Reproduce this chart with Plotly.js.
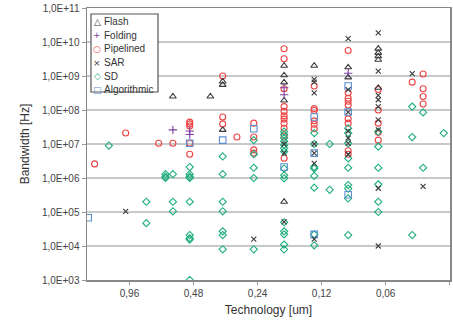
<!DOCTYPE html>
<html><head><meta charset="utf-8">
<script src="https://cdn.plot.ly/plotly-3.0.1.min.js"></script>
<style>html,body{margin:0;padding:0;background:#fff}#chart{width:453px;height:321px}</style>
</head><body><div id="chart"></div>
<script>
// ---- data (technology in um, bandwidth in Hz) ----
const flashTech = [0.6,0.4,0.35,0.35,0.35,0.18,0.18,0.18,0.18,0.18,0.13,0.09,0.09,0.065,0.065,0.065,0.065,0.065];
const flashBW   = [2.5e8,2.5e8,6.9e8,5.5e8,2.6e7,2e9,1.05e9,6.5e8,1.9e8,2e5,2e9,1.8e9,9.1e8,6.4e9,4.8e9,3.8e9,3e9,4.5e8];

const foldingTech = [0.6,0.5,0.5,0.18,0.18,0.09];
const foldingBW   = [2.6e7,2.4e7,1.9e7,4.5e8,2.8e8,1.2e9];

const pipeTech = [1.4,1.0,0.7,0.6,0.5,0.5,0.5,0.5,0.5,0.35,0.35,0.35,0.3,0.25,0.25,0.25,0.25,
  0.18,0.18,0.18,0.18,0.18,0.18,0.18,0.18,0.18,0.18,0.18,
  0.13,0.13,0.13,0.13,0.13,0.13,
  0.09,0.09,0.09,0.09,0.09,0.09,0.09,0.09,0.09,
  0.065,0.065,0.065,0.065,0.065,0.045,0.04,0.04,0.04,0.04];
const pipeBW = [2.6e6,2.1e7,1.05e7,1.05e7,4.4e7,3.9e7,3.4e7,1.05e7,5e6,1.0e9,6.2e7,3.9e7,1.6e7,4.1e7,1.6e7,6.7e6,5.4e6,
  6.3e9,3.2e9,4.2e8,1.26e8,9.1e7,6.7e7,5.4e7,4.1e7,2.9e7,1.7e7,3.8e6,
  5.1e8,1.1e8,9.7e7,4.8e7,3.8e7,2.8e7,
  5.6e9,3.2e8,2.2e8,1.8e8,1.4e8,5.5e7,4.1e7,6.3e6,5e6,
  4e8,1e8,4.1e7,2.2e7,1.3e7,6.6e8,1.15e9,4.2e8,2.5e8,1.5e8];

const sarTech = [1.0,0.25,0.18,0.18,0.18,0.13,0.13,0.13,0.13,0.13,0.13,0.13,
  0.09,0.09,0.09,0.09,0.09,0.09,0.09,
  0.065,0.065,0.065,0.065,0.065,0.065,0.065,0.065,0.065,0.045,0.04];
const sarBW = [1.05e5,1.6e4,1e7,5.4e6,5.1e4,8e8,6.6e8,3.2e8,1e7,5.4e6,2.7e6,1.6e4,
  1.26e10,4e8,8.7e7,2.4e7,1.5e7,1.05e7,5e6,
  1.86e10,1.4e9,2.7e8,2e8,1.26e8,5.1e7,2.6e7,5e5,1e4,1.17e9,5.7e5];

const sdTech = [1.2,0.8,0.8,0.65,0.65,0.65,0.6,0.6,0.6,
  0.5,0.5,0.5,0.5,0.5,0.5,0.5,0.5,0.5,
  0.35,0.35,0.35,0.35,0.35,0.35,0.35,
  0.25,0.25,0.25,0.25,0.25,
  0.18,0.18,0.18,0.18,0.18,0.18,0.18,0.18,0.18,0.18,0.18,0.18,0.18,0.18,0.18,
  0.13,0.13,0.13,0.13,0.13,0.13,0.13,0.13,
  0.11,0.11,
  0.09,0.09,0.09,0.09,0.09,0.09,0.09,0.09,0.09,
  0.065,0.065,0.065,0.065,0.065,0.065,
  0.045,0.045,0.045,0.04,0.04,0.032];
const sdBW = [9e6,2e5,4.7e4,1.3e6,1.1e6,1.0e6,1.3e6,2e5,1.05e5,
  2.1e6,1.3e6,1.1e6,1.0e6,2e5,2.1e4,1.7e4,1.55e4,1e3,
  4.3e6,1.3e6,2e5,1.05e5,2.7e4,2.1e4,8e3,
  1.3e7,5e6,2e6,1.0e6,8e3,
  2.3e7,1.9e7,1.5e7,1.2e7,9.3e6,7.5e6,6e6,1.9e6,1.2e6,9.8e5,5e4,2.7e4,2.2e4,1.1e4,7.9e3,
  2.1e7,1e7,2.1e6,1.9e6,1.15e6,5.2e5,2.2e4,1.05e4,
  1e7,4.5e5,
  2.9e7,2.1e7,1.05e7,3.8e6,2e6,6.2e5,4.9e5,2.5e5,2.1e4,
  2.3e7,8.4e6,2e6,6.5e5,2e5,1e5,
  1.26e8,1.6e7,2.1e4,8.5e7,2e6,2.1e7];

const algoTech = [1.5,0.5,0.35,0.25,0.18,0.13,0.13,0.13,0.09,0.09,0.09];
const algoBW   = [6.8e4,1.05e7,1.3e7,2.8e7,2.1e6,6.2e7,5.4e6,2.2e4,5.1e8,8.7e7,3.2e5];

const seriesNames = ['Flash','Folding','Pipelined','SAR','SD','Algorithmic'];
const legendGlyphs = ['\u25B3','+','\u25CB','\u00D7','\u25C7','\u25A1'];

const xTickVals = [0.96,0.48,0.24,0.12,0.06,0.03];
const xTickText = ['0,96','0,48','0,24','0,12','0,06','0,03'];
const yTickVals = [1e3,1e4,1e5,1e6,1e7,1e8,1e9,1e10,1e11];
const yTickText = ['1,0E+03','1,0E+04','1,0E+05','1,0E+06','1,0E+07','1,0E+08','1,0E+09','1,0E+10','1,0E+11'];

// ---- styles ----
const colors = {Flash:'#3a3a3a',Folding:'#7b3f9e',Pipelined:'#ee4444',SAR:'#3a3a3a',SD:'#1fae7e',Algorithmic:'#5b8ed0'};
const symbols = {Flash:'triangle-up-open',Folding:'cross-thin-open',Pipelined:'circle-open',SAR:'x-thin-open',SD:'diamond-open',Algorithmic:'square-open'};
const sizes = {Flash:6,Folding:6,Pipelined:6,SAR:5,SD:5.5,Algorithmic:6.5};
const dataMap = {
  Flash:[flashTech,flashBW],Folding:[foldingTech,foldingBW],Pipelined:[pipeTech,pipeBW],
  SAR:[sarTech,sarBW],SD:[sdTech,sdBW],Algorithmic:[algoTech,algoBW]
};
const drawOrder = ['Pipelined','SD','Algorithmic','Flash','Folding','SAR'];
const traces = drawOrder.map(n => ({
  type:'scatter', mode:'markers', name:n,
  x:dataMap[n][0], y:dataMap[n][1],
  marker:{symbol:symbols[n], size:sizes[n], color:colors[n], line:{color:colors[n], width:1.1}},
  showlegend:false, hoverinfo:'x+y+name'
}));

const L=87, R=3, T=8, B=41, W=453, H=321;
const pw = W-L-R, ph = H-T-B;
const px2x = p => (p-L)/pw;
const px2y = p => 1-(p-T)/ph;

const annotations = [];
seriesNames.forEach((n,i) => {
  const yy = px2y(21.7+13.6*i);
  annotations.push({
    xref:'paper', yref:'paper', x:px2x(97), y:yy,
    xanchor:'center', yanchor:'middle', showarrow:false,
    text:legendGlyphs[i],
    font:{family:'DejaVu Sans, sans-serif', size:9, color:colors[n]}
  });
  annotations.push({
    xref:'paper', yref:'paper', x:px2x(101.5), y:yy,
    xanchor:'left', yanchor:'middle', showarrow:false,
    text:n,
    font:{family:'Liberation Sans, Arial, sans-serif', size:10, color:'#333'}
  });
});

const layout = {
  width:W, height:H,
  margin:{l:L,r:R,t:T,b:B,pad:0},
  paper_bgcolor:'#fff', plot_bgcolor:'#fff',
  font:{family:'Liberation Sans, Arial, sans-serif', size:10, color:'#444'},
  xaxis:{type:'log', range:[Math.log10(1.52), Math.log10(0.0299)],
    tickmode:'array', tickvals:xTickVals, ticktext:xTickText,
    showgrid:false, zeroline:false, showline:true, linecolor:'#888', linewidth:1.5, mirror:true,
    ticks:'outside', ticklen:3, tickcolor:'#999', tickfont:{size:10,color:'#444'},
    title:{text:'Technology [um]', font:{size:12,color:'#333'}, standoff:8}},
  yaxis:{type:'log', range:[3,11],
    tickmode:'array', tickvals:yTickVals, ticktext:yTickText,
    showgrid:true, gridcolor:'#c6c9cc', gridwidth:1.5, zeroline:false,
    showline:true, linecolor:'#888', linewidth:1.5, mirror:true,
    ticks:'outside', ticklen:4, tickcolor:'#999', tickfont:{size:10,color:'#444'},
    title:{text:'Bandwidth [Hz]', font:{size:12,color:'#333'}, standoff:10}},
  shapes:[{type:'rect', xref:'paper', yref:'paper',
    x0:px2x(91), x1:px2x(158), y0:px2y(92), y1:px2y(14),
    line:{color:'#555', width:1.2}, fillcolor:'#fff', layer:'above'}],
  annotations:annotations,
  showlegend:false
};
Plotly.newPlot('chart', traces, layout, {displayModeBar:false, staticPlot:true});
</script></body></html>
